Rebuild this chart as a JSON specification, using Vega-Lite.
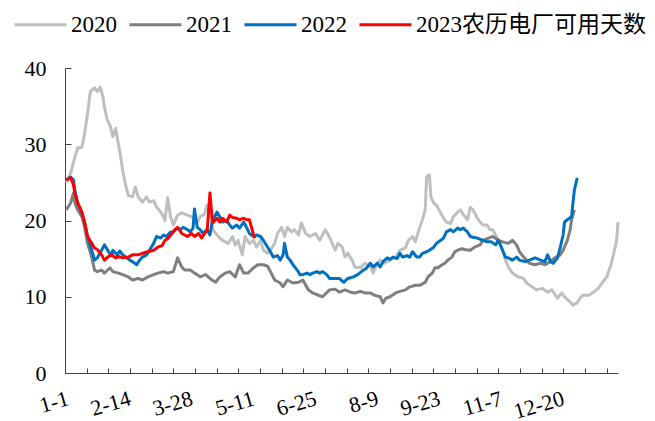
{
  "$schema": "https://vega.github.io/schema/vega-lite/v6.json",
  "width": 553,
  "height": 305,
  "autosize": {"type": "none"},
  "padding": {"left": 65, "top": 68, "right": 37, "bottom": 48},
  "background": "white",
  "config": {"view": {"stroke": null}, "axis": {"grid": false}, "font": "Liberation Serif, serif"},
  "datasets": {
    "rows": [
      {"s":"2020","d":1,"v":25},{"s":"2020","d":4,"v":26.2},{"s":"2020","d":7,"v":28.3},{"s":"2020","d":9,"v":29.5},{"s":"2020","d":12,"v":29.6},{"s":"2020","d":14,"v":31.5},{"s":"2020","d":16,"v":34},{"s":"2020","d":18,"v":36.9},{"s":"2020","d":21,"v":37.4},{"s":"2020","d":23,"v":36.9},{"s":"2020","d":25,"v":37.5},{"s":"2020","d":27,"v":36.2},{"s":"2020","d":28,"v":34.9},{"s":"2020","d":30,"v":33.2},{"s":"2020","d":32,"v":32.5},{"s":"2020","d":34,"v":31},{"s":"2020","d":36,"v":32.1},{"s":"2020","d":37,"v":31},{"s":"2020","d":39,"v":29},{"s":"2020","d":41,"v":26.6},{"s":"2020","d":43,"v":24.7},{"s":"2020","d":45,"v":23.3},{"s":"2020","d":48,"v":23.1},{"s":"2020","d":50,"v":24.4},{"s":"2020","d":52,"v":23.1},{"s":"2020","d":55,"v":22.4},{"s":"2020","d":58,"v":23.1},{"s":"2020","d":60,"v":22.4},{"s":"2020","d":63,"v":22.6},{"s":"2020","d":65,"v":21.8},{"s":"2020","d":68,"v":21.1},{"s":"2020","d":70,"v":20.5},{"s":"2020","d":71,"v":20},{"s":"2020","d":73,"v":23},{"s":"2020","d":75,"v":20.5},{"s":"2020","d":77,"v":19.4},{"s":"2020","d":80,"v":20.7},{"s":"2020","d":83,"v":21},{"s":"2020","d":87,"v":20.7},{"s":"2020","d":90,"v":20.5},{"s":"2020","d":94,"v":19.7},{"s":"2020","d":96,"v":20.5},{"s":"2020","d":99,"v":20.8},{"s":"2020","d":101,"v":22},{"s":"2020","d":103,"v":21},{"s":"2020","d":105,"v":18.8},{"s":"2020","d":109,"v":17.9},{"s":"2020","d":112,"v":17.4},{"s":"2020","d":116,"v":17},{"s":"2020","d":119,"v":17.9},{"s":"2020","d":121,"v":16.8},{"s":"2020","d":123,"v":17.4},{"s":"2020","d":126,"v":15.5},{"s":"2020","d":128,"v":17.9},{"s":"2020","d":131,"v":17},{"s":"2020","d":134,"v":17.4},{"s":"2020","d":136,"v":16.5},{"s":"2020","d":139,"v":17.4},{"s":"2020","d":141,"v":16.1},{"s":"2020","d":144,"v":15.7},{"s":"2020","d":146,"v":16.1},{"s":"2020","d":149,"v":17},{"s":"2020","d":151,"v":18.3},{"s":"2020","d":154,"v":19.1},{"s":"2020","d":156,"v":17.9},{"s":"2020","d":158,"v":19.1},{"s":"2020","d":161,"v":18.5},{"s":"2020","d":163,"v":18.8},{"s":"2020","d":166,"v":18.1},{"s":"2020","d":168,"v":19.7},{"s":"2020","d":171,"v":18.3},{"s":"2020","d":174,"v":17.9},{"s":"2020","d":178,"v":18.3},{"s":"2020","d":181,"v":17.4},{"s":"2020","d":185,"v":18.8},{"s":"2020","d":188,"v":17.8},{"s":"2020","d":192,"v":16.1},{"s":"2020","d":194,"v":17},{"s":"2020","d":197,"v":16.5},{"s":"2020","d":199,"v":15.2},{"s":"2020","d":201,"v":15.7},{"s":"2020","d":204,"v":14.8},{"s":"2020","d":206,"v":13.9},{"s":"2020","d":210,"v":13.8},{"s":"2020","d":213,"v":14.4},{"s":"2020","d":217,"v":14},{"s":"2020","d":219,"v":13.1},{"s":"2020","d":222,"v":14.4},{"s":"2020","d":224,"v":14.8},{"s":"2020","d":227,"v":14.4},{"s":"2020","d":231,"v":14.8},{"s":"2020","d":235,"v":15.2},{"s":"2020","d":238,"v":16.1},{"s":"2020","d":242,"v":16.4},{"s":"2020","d":244,"v":17.4},{"s":"2020","d":247,"v":17.9},{"s":"2020","d":249,"v":17.2},{"s":"2020","d":251,"v":18.5},{"s":"2020","d":254,"v":20.1},{"s":"2020","d":256,"v":21.4},{"s":"2020","d":257,"v":25.7},{"s":"2020","d":259,"v":26},{"s":"2020","d":260,"v":23.1},{"s":"2020","d":262,"v":22.3},{"s":"2020","d":264,"v":22},{"s":"2020","d":267,"v":21},{"s":"2020","d":269,"v":20.3},{"s":"2020","d":271,"v":19.8},{"s":"2020","d":274,"v":19.6},{"s":"2020","d":276,"v":20.5},{"s":"2020","d":279,"v":21.1},{"s":"2020","d":281,"v":21.4},{"s":"2020","d":283,"v":20.8},{"s":"2020","d":286,"v":20.1},{"s":"2020","d":288,"v":21.7},{"s":"2020","d":290,"v":21.4},{"s":"2020","d":293,"v":20.3},{"s":"2020","d":295,"v":19.8},{"s":"2020","d":297,"v":19.4},{"s":"2020","d":300,"v":19.4},{"s":"2020","d":302,"v":18.8},{"s":"2020","d":304,"v":18.8},{"s":"2020","d":307,"v":17.7},{"s":"2020","d":309,"v":17},{"s":"2020","d":311,"v":16.1},{"s":"2020","d":313,"v":14.8},{"s":"2020","d":315,"v":13.9},{"s":"2020","d":318,"v":13.1},{"s":"2020","d":322,"v":12.6},{"s":"2020","d":326,"v":12.4},{"s":"2020","d":328,"v":11.8},{"s":"2020","d":332,"v":11.3},{"s":"2020","d":335,"v":10.9},{"s":"2020","d":339,"v":11.1},{"s":"2020","d":343,"v":10.6},{"s":"2020","d":346,"v":10.9},{"s":"2020","d":350,"v":9.8},{"s":"2020","d":353,"v":10.5},{"s":"2020","d":355,"v":10},{"s":"2020","d":359,"v":9.3},{"s":"2020","d":361,"v":8.9},{"s":"2020","d":364,"v":9.2},{"s":"2020","d":366,"v":9.8},{"s":"2020","d":368,"v":10.2},{"s":"2020","d":372,"v":10.2},{"s":"2020","d":375,"v":10.5},{"s":"2020","d":379,"v":11.1},{"s":"2020","d":382,"v":11.9},{"s":"2020","d":385,"v":12.6},{"s":"2020","d":388,"v":14.2},{"s":"2020","d":390,"v":15.7},{"s":"2020","d":392,"v":17.4},{"s":"2020","d":393,"v":19.8},
      {"s":"2021","d":1,"v":21.4},{"s":"2021","d":4,"v":22.3},{"s":"2021","d":6,"v":23.6},{"s":"2021","d":7,"v":22.3},{"s":"2021","d":9,"v":21.4},{"s":"2021","d":12,"v":20.5},{"s":"2021","d":14,"v":19.1},{"s":"2021","d":16,"v":17},{"s":"2021","d":19,"v":15.2},{"s":"2021","d":21,"v":13.5},{"s":"2021","d":23,"v":13.3},{"s":"2021","d":26,"v":13.5},{"s":"2021","d":28,"v":13.1},{"s":"2021","d":32,"v":13.8},{"s":"2021","d":34,"v":13.3},{"s":"2021","d":38,"v":13.1},{"s":"2021","d":41,"v":12.9},{"s":"2021","d":45,"v":12.6},{"s":"2021","d":48,"v":12.2},{"s":"2021","d":52,"v":12.4},{"s":"2021","d":55,"v":12.2},{"s":"2021","d":59,"v":12.6},{"s":"2021","d":63,"v":12.9},{"s":"2021","d":66,"v":13.1},{"s":"2021","d":70,"v":13.3},{"s":"2021","d":73,"v":13.1},{"s":"2021","d":77,"v":13.3},{"s":"2021","d":80,"v":15.1},{"s":"2021","d":83,"v":13.9},{"s":"2021","d":85,"v":13.5},{"s":"2021","d":89,"v":13.5},{"s":"2021","d":92,"v":13.1},{"s":"2021","d":94,"v":12.9},{"s":"2021","d":96,"v":12.6},{"s":"2021","d":100,"v":12.9},{"s":"2021","d":103,"v":12.4},{"s":"2021","d":107,"v":11.9},{"s":"2021","d":110,"v":12.6},{"s":"2021","d":114,"v":13.1},{"s":"2021","d":117,"v":13.3},{"s":"2021","d":121,"v":12.6},{"s":"2021","d":124,"v":14.2},{"s":"2021","d":127,"v":13.1},{"s":"2021","d":130,"v":13.1},{"s":"2021","d":134,"v":13.8},{"s":"2021","d":137,"v":14.2},{"s":"2021","d":141,"v":14.2},{"s":"2021","d":144,"v":14},{"s":"2021","d":146,"v":13.3},{"s":"2021","d":149,"v":12.2},{"s":"2021","d":153,"v":11.8},{"s":"2021","d":155,"v":11.3},{"s":"2021","d":158,"v":12.2},{"s":"2021","d":162,"v":11.8},{"s":"2021","d":166,"v":11.9},{"s":"2021","d":169,"v":12.2},{"s":"2021","d":173,"v":10.9},{"s":"2021","d":176,"v":10.5},{"s":"2021","d":180,"v":10.2},{"s":"2021","d":183,"v":10},{"s":"2021","d":188,"v":10.9},{"s":"2021","d":192,"v":11},{"s":"2021","d":195,"v":10.6},{"s":"2021","d":199,"v":10.9},{"s":"2021","d":203,"v":10.6},{"s":"2021","d":206,"v":10.5},{"s":"2021","d":210,"v":10.7},{"s":"2021","d":213,"v":10.5},{"s":"2021","d":217,"v":10.5},{"s":"2021","d":220,"v":10.2},{"s":"2021","d":224,"v":10},{"s":"2021","d":226,"v":9.2},{"s":"2021","d":228,"v":9.8},{"s":"2021","d":231,"v":10},{"s":"2021","d":235,"v":10.5},{"s":"2021","d":238,"v":10.7},{"s":"2021","d":242,"v":10.9},{"s":"2021","d":245,"v":11.3},{"s":"2021","d":249,"v":11.5},{"s":"2021","d":252,"v":11.5},{"s":"2021","d":256,"v":11.9},{"s":"2021","d":258,"v":12.6},{"s":"2021","d":261,"v":13.1},{"s":"2021","d":263,"v":13.8},{"s":"2021","d":265,"v":13.8},{"s":"2021","d":268,"v":14.2},{"s":"2021","d":270,"v":14.4},{"s":"2021","d":272,"v":14.8},{"s":"2021","d":275,"v":15.2},{"s":"2021","d":277,"v":15.9},{"s":"2021","d":279,"v":16.1},{"s":"2021","d":282,"v":16.3},{"s":"2021","d":284,"v":16.2},{"s":"2021","d":288,"v":16.1},{"s":"2021","d":291,"v":16.5},{"s":"2021","d":295,"v":16.8},{"s":"2021","d":297,"v":17.4},{"s":"2021","d":301,"v":17.7},{"s":"2021","d":304,"v":17.9},{"s":"2021","d":308,"v":17.4},{"s":"2021","d":311,"v":17.2},{"s":"2021","d":315,"v":17},{"s":"2021","d":318,"v":17.4},{"s":"2021","d":321,"v":16.8},{"s":"2021","d":323,"v":15.9},{"s":"2021","d":326,"v":15.2},{"s":"2021","d":328,"v":14.8},{"s":"2021","d":330,"v":14.4},{"s":"2021","d":334,"v":14.2},{"s":"2021","d":338,"v":14.4},{"s":"2021","d":341,"v":14.2},{"s":"2021","d":345,"v":14.6},{"s":"2021","d":348,"v":15.1},{"s":"2021","d":352,"v":15.5},{"s":"2021","d":354,"v":16.1},{"s":"2021","d":357,"v":17.4},{"s":"2021","d":359,"v":18.8},{"s":"2021","d":360,"v":20.1},{"s":"2021","d":362,"v":21.4},
      {"s":"2022","d":1,"v":25.3},{"s":"2022","d":4,"v":25.7},{"s":"2022","d":6,"v":25.3},{"s":"2022","d":7,"v":24},{"s":"2022","d":9,"v":22.3},{"s":"2022","d":12,"v":21},{"s":"2022","d":14,"v":19.7},{"s":"2022","d":16,"v":17.9},{"s":"2022","d":19,"v":16.1},{"s":"2022","d":21,"v":14.8},{"s":"2022","d":23,"v":15.1},{"s":"2022","d":26,"v":16.1},{"s":"2022","d":28,"v":16.8},{"s":"2022","d":31,"v":15.9},{"s":"2022","d":33,"v":15.4},{"s":"2022","d":34,"v":16.1},{"s":"2022","d":37,"v":15.5},{"s":"2022","d":39,"v":16},{"s":"2022","d":41,"v":15.5},{"s":"2022","d":44,"v":15.1},{"s":"2022","d":46,"v":14.8},{"s":"2022","d":48,"v":14.6},{"s":"2022","d":51,"v":14.2},{"s":"2022","d":53,"v":14.8},{"s":"2022","d":55,"v":15.2},{"s":"2022","d":58,"v":15.5},{"s":"2022","d":60,"v":16.1},{"s":"2022","d":63,"v":17},{"s":"2022","d":65,"v":17.9},{"s":"2022","d":68,"v":17.7},{"s":"2022","d":70,"v":18.1},{"s":"2022","d":72,"v":17.9},{"s":"2022","d":75,"v":18.5},{"s":"2022","d":77,"v":18.5},{"s":"2022","d":80,"v":19},{"s":"2022","d":82,"v":18.8},{"s":"2022","d":84,"v":19.1},{"s":"2022","d":87,"v":18.8},{"s":"2022","d":89,"v":18.5},{"s":"2022","d":91,"v":19},{"s":"2022","d":92,"v":21.5},{"s":"2022","d":94,"v":19.1},{"s":"2022","d":96,"v":18.8},{"s":"2022","d":98,"v":18.3},{"s":"2022","d":101,"v":18.8},{"s":"2022","d":103,"v":18.1},{"s":"2022","d":105,"v":20.1},{"s":"2022","d":108,"v":21.1},{"s":"2022","d":110,"v":20.5},{"s":"2022","d":112,"v":19.8},{"s":"2022","d":115,"v":20},{"s":"2022","d":117,"v":19.4},{"s":"2022","d":119,"v":19},{"s":"2022","d":122,"v":19.4},{"s":"2022","d":124,"v":19},{"s":"2022","d":127,"v":19.8},{"s":"2022","d":129,"v":19.1},{"s":"2022","d":131,"v":18.3},{"s":"2022","d":134,"v":17.9},{"s":"2022","d":136,"v":18.1},{"s":"2022","d":139,"v":17.9},{"s":"2022","d":141,"v":17.4},{"s":"2022","d":144,"v":16.5},{"s":"2022","d":146,"v":15.9},{"s":"2022","d":148,"v":15.2},{"s":"2022","d":151,"v":15.4},{"s":"2022","d":153,"v":14.8},{"s":"2022","d":155,"v":15.5},{"s":"2022","d":156,"v":17},{"s":"2022","d":158,"v":15.2},{"s":"2022","d":160,"v":14.8},{"s":"2022","d":162,"v":14.2},{"s":"2022","d":165,"v":13.5},{"s":"2022","d":167,"v":12.9},{"s":"2022","d":169,"v":12.9},{"s":"2022","d":172,"v":13.1},{"s":"2022","d":174,"v":12.9},{"s":"2022","d":176,"v":13.1},{"s":"2022","d":179,"v":13.3},{"s":"2022","d":181,"v":13.1},{"s":"2022","d":183,"v":13.3},{"s":"2022","d":186,"v":12.9},{"s":"2022","d":188,"v":12.4},{"s":"2022","d":192,"v":12.4},{"s":"2022","d":195,"v":12.4},{"s":"2022","d":198,"v":11.9},{"s":"2022","d":201,"v":12.4},{"s":"2022","d":205,"v":12.6},{"s":"2022","d":208,"v":12.9},{"s":"2022","d":212,"v":13.5},{"s":"2022","d":214,"v":13.7},{"s":"2022","d":217,"v":14.4},{"s":"2022","d":219,"v":13.9},{"s":"2022","d":222,"v":14.4},{"s":"2022","d":224,"v":13.9},{"s":"2022","d":226,"v":14.6},{"s":"2022","d":229,"v":15.1},{"s":"2022","d":231,"v":14.9},{"s":"2022","d":233,"v":15.2},{"s":"2022","d":236,"v":15},{"s":"2022","d":238,"v":15.7},{"s":"2022","d":240,"v":15.2},{"s":"2022","d":243,"v":15.4},{"s":"2022","d":245,"v":15.2},{"s":"2022","d":247,"v":15.9},{"s":"2022","d":250,"v":15.2},{"s":"2022","d":252,"v":15.2},{"s":"2022","d":254,"v":15.7},{"s":"2022","d":257,"v":15.9},{"s":"2022","d":259,"v":16.1},{"s":"2022","d":262,"v":16.5},{"s":"2022","d":264,"v":17},{"s":"2022","d":267,"v":17.4},{"s":"2022","d":269,"v":17.7},{"s":"2022","d":271,"v":18.5},{"s":"2022","d":274,"v":18.8},{"s":"2022","d":276,"v":18.5},{"s":"2022","d":279,"v":19},{"s":"2022","d":281,"v":18.8},{"s":"2022","d":283,"v":19},{"s":"2022","d":286,"v":18.5},{"s":"2022","d":288,"v":17.9},{"s":"2022","d":290,"v":17.8},{"s":"2022","d":293,"v":17.7},{"s":"2022","d":297,"v":17.4},{"s":"2022","d":300,"v":17.2},{"s":"2022","d":303,"v":17.2},{"s":"2022","d":306,"v":16.8},{"s":"2022","d":308,"v":17.4},{"s":"2022","d":311,"v":16.1},{"s":"2022","d":313,"v":15.2},{"s":"2022","d":315,"v":15.1},{"s":"2022","d":318,"v":14.8},{"s":"2022","d":321,"v":15.2},{"s":"2022","d":323,"v":14.8},{"s":"2022","d":327,"v":14.6},{"s":"2022","d":330,"v":14.8},{"s":"2022","d":334,"v":15.1},{"s":"2022","d":338,"v":14.8},{"s":"2022","d":341,"v":14.6},{"s":"2022","d":343,"v":15.5},{"s":"2022","d":345,"v":14.6},{"s":"2022","d":347,"v":14.4},{"s":"2022","d":350,"v":15.1},{"s":"2022","d":352,"v":16.5},{"s":"2022","d":354,"v":18.1},{"s":"2022","d":355,"v":19.8},{"s":"2022","d":357,"v":20.1},{"s":"2022","d":360,"v":20.5},{"s":"2022","d":361,"v":22.3},{"s":"2022","d":362,"v":24},{"s":"2022","d":364,"v":25.6},
      {"s":"2023农历电厂可用天数","d":1,"v":25.3},{"s":"2023农历电厂可用天数","d":4,"v":25.6},{"s":"2023农历电厂可用天数","d":6,"v":24.7},{"s":"2023农历电厂可用天数","d":7,"v":23.6},{"s":"2023农历电厂可用天数","d":9,"v":22.3},{"s":"2023农历电厂可用天数","d":12,"v":21.1},{"s":"2023农历电厂可用天数","d":14,"v":19.7},{"s":"2023农历电厂可用天数","d":16,"v":17.9},{"s":"2023农历电厂可用天数","d":19,"v":17},{"s":"2023农历电厂可用天数","d":21,"v":16.4},{"s":"2023农历电厂可用天数","d":23,"v":16.2},{"s":"2023农历电厂可用天数","d":26,"v":15.5},{"s":"2023农历电厂可用天数","d":28,"v":14.8},{"s":"2023农历电厂可用天数","d":31,"v":15.3},{"s":"2023农历电厂可用天数","d":33,"v":15.5},{"s":"2023农历电厂可用天数","d":36,"v":15.1},{"s":"2023农历电厂可用天数","d":38,"v":15.3},{"s":"2023农历电厂可用天数","d":41,"v":15.1},{"s":"2023农历电厂可用天数","d":45,"v":15.2},{"s":"2023农历电厂可用天数","d":48,"v":15.5},{"s":"2023农历电厂可用天数","d":52,"v":15.5},{"s":"2023农历电厂可用天数","d":55,"v":15.7},{"s":"2023农历电厂可用天数","d":59,"v":15.9},{"s":"2023农历电厂可用天数","d":63,"v":16.1},{"s":"2023农历电厂可用天数","d":66,"v":16.5},{"s":"2023农历电厂可用天数","d":69,"v":16.7},{"s":"2023农历电厂可用天数","d":71,"v":17.4},{"s":"2023农历电厂可用天数","d":73,"v":17.6},{"s":"2023农历电厂可用天数","d":76,"v":18.3},{"s":"2023农历电厂可用天数","d":78,"v":18.8},{"s":"2023农历电厂可用天数","d":80,"v":19.1},{"s":"2023农历电厂可用天数","d":83,"v":18.3},{"s":"2023农历电厂可用天数","d":85,"v":18.1},{"s":"2023农历电厂可用天数","d":87,"v":17.9},{"s":"2023农历电厂可用天数","d":90,"v":18.3},{"s":"2023农历电厂可用天数","d":92,"v":17.9},{"s":"2023农历电厂可用天数","d":95,"v":18.3},{"s":"2023农历电厂可用天数","d":97,"v":17.7},{"s":"2023农历电厂可用天数","d":100,"v":18.5},{"s":"2023农历电厂可用天数","d":101,"v":18.6},{"s":"2023农历电厂可用天数","d":103,"v":23.6},{"s":"2023农历电厂可用天数","d":104,"v":21.4},{"s":"2023农历电厂可用天数","d":105,"v":19.7},{"s":"2023农历电厂可用天数","d":108,"v":20.3},{"s":"2023农历电厂可用天数","d":110,"v":19.8},{"s":"2023农历电厂可用天数","d":112,"v":20.3},{"s":"2023农历电厂可用天数","d":115,"v":19.8},{"s":"2023农历电厂可用天数","d":117,"v":20.7},{"s":"2023农历电厂可用天数","d":119,"v":20.4},{"s":"2023农历电厂可用天数","d":122,"v":20.3},{"s":"2023农历电厂可用天数","d":124,"v":20.1},{"s":"2023农历电厂可用天数","d":127,"v":20.3},{"s":"2023农历电厂可用天数","d":129,"v":20.1},{"s":"2023农历电厂可用天数","d":131,"v":20.1},{"s":"2023农历电厂可用天数","d":133,"v":18.8},{"s":"2023农历电厂可用天数","d":134,"v":18.1},{"s":"2023农历电厂可用天数","d":135,"v":17.7}
    ]
  },
  "data": {"name": "rows"},
  "encoding": {
    "y": {
      "field": "v", "type": "quantitative",
      "scale": {"domain": [0, 40], "nice": false, "zero": true},
      "axis": {
        "title": null, "values": [0, 10, 20, 30, 40], "grid": false,
        "domainColor": "#404040", "domainWidth": 1,
        "tickColor": "#404040", "tickSize": -6, "tickWidth": 1,
        "labelPadding": 25, "labelFont": "Liberation Serif, serif", "labelFontSize": 22, "labelColor": "#000000"
      }
    },
    "color": {
      "field": "s", "type": "nominal",
      "scale": {
        "domain": ["2020", "2021", "2022", "2023农历电厂可用天数"],
        "range": ["#BFBFBF", "#7F7F7F", "#0070C0", "#FF0000"]
      },
      "legend": {
        "title": null, "orient": "none", "legendX": -52, "legendY": -71,
        "direction": "horizontal", "columns": 4,
        "symbolType": "stroke", "symbolSize": 2704, "symbolStrokeWidth": 3,
        "labelFont": "Liberation Serif, Noto Sans CJK SC, serif", "labelFontSize": 23, "labelColor": "#000000",
        "labelLimit": 500, "labelOffset": 3, "columnPadding": 6, "padding": 0
      }
    }
  },
  "layer": [
    {
      "transform": [{"filter": "datum.s == '2020' || datum.s == '2021'"}],
      "mark": {"type": "line", "strokeWidth": 3, "strokeJoin": "round"},
      "encoding": {
        "x": {
          "field": "d", "type": "quantitative",
          "scale": {"domain": [0, 393], "nice": false, "zero": false},
          "axis": {
            "orient": "bottom", "title": null, "labels": false, "grid": false,
            "values": [0, 15.4, 30.8, 46.2, 61.6, 77, 92.4, 107.8, 123.2, 138.6, 154, 169.4, 184.8, 200.2, 215.6, 231, 246.4, 261.8, 277.2, 292.6, 308, 323.4, 338.8, 354.2, 369.6, 385],
            "domainColor": "#404040", "domainWidth": 1,
            "tickColor": "#404040", "tickSize": -5, "tickWidth": 1
          }
        }
      }
    },
    {
      "transform": [{"filter": "datum.s == '2022' || datum.s == '2023农历电厂可用天数'"}],
      "mark": {"type": "line", "strokeWidth": 3, "strokeJoin": "round"},
      "encoding": {
        "x": {
          "field": "d", "type": "quantitative",
          "axis": {
            "orient": "bottom", "title": null, "ticks": false, "domain": false, "grid": false,
            "values": [0, 44, 88, 132, 176, 220, 264, 308, 352],
            "labelExpr": "datum.value == 0 ? '1-1' : datum.value == 44 ? '2-14' : datum.value == 88 ? '3-28' : datum.value == 132 ? '5-11' : datum.value == 176 ? '6-25' : datum.value == 220 ? '8-9' : datum.value == 264 ? '9-23' : datum.value == 308 ? '11-7' : '12-20'",
            "labelAngle": -16, "labelAlign": "right", "labelBaseline": "top",
            "labelPadding": 15, "labelFont": "Liberation Serif, serif", "labelFontSize": 22, "labelColor": "#000000",
            "labelOverlap": false, "labelFlush": false, "labelBound": false
          }
        }
      }
    }
  ],
  "resolve": {"axis": {"x": "independent"}}
}
